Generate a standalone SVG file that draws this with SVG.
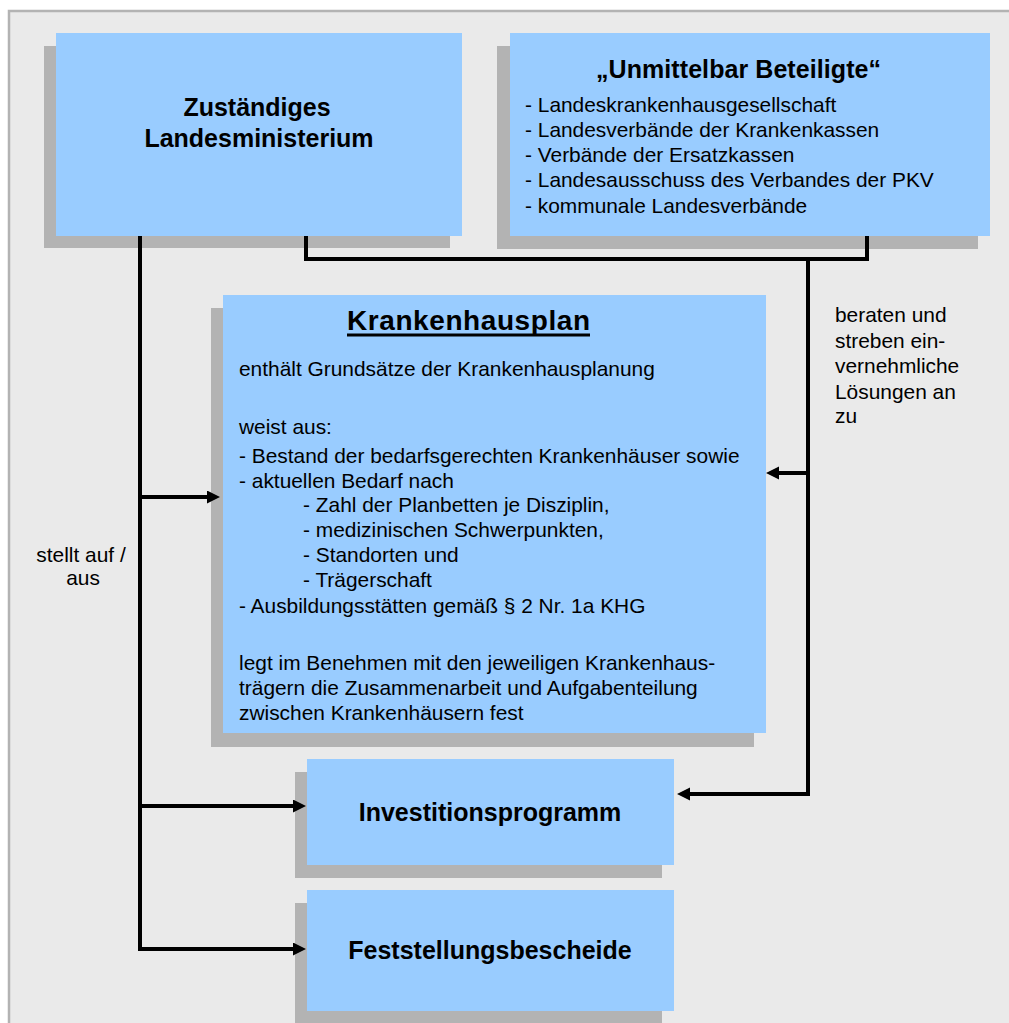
<svg xmlns="http://www.w3.org/2000/svg" width="1009" height="1023" viewBox="0 0 1009 1023">
<style>
text{font-family:"Liberation Sans",Arial,sans-serif;fill:#000}
.b{font-weight:bold;font-size:25px}
.t{font-size:20.9px}
.box{fill:#99ccff}
.sh{fill:#b3b3b3}
.c{fill:none;stroke:#000;stroke-width:4;stroke-linejoin:miter}
.a{marker-end:url(#ah)}
</style>
<defs>
<marker id="ah" markerUnits="userSpaceOnUse" markerWidth="14" markerHeight="14" refX="5" refY="6.5" orient="auto">
<path d="M0,0 L13,6.5 L0,13 z" fill="#000"/>
</marker>
</defs>
<rect x="0" y="0" width="1009" height="1023" fill="#fff"/>
<rect x="9" y="11" width="1200" height="1200" fill="#eaeaea" stroke="#b3b3b3" stroke-width="2.5"/>

<g id="ministerium">
<rect class="sh" x="44" y="46" width="406" height="202"/>
<rect class="box" x="56" y="33" width="406" height="203"/>
<text class="b" x="257" y="116" text-anchor="middle">Zuständiges</text>
<text class="b" x="259" y="147" text-anchor="middle">Landesministerium</text>
</g>

<g id="beteiligte">
<rect class="sh" x="497" y="46" width="481" height="203"/>
<rect class="box" x="510" y="33" width="480" height="203"/>
<text class="b" x="596" y="78" textLength="285">„Unmittelbar Beteiligte“</text>
<text class="t" x="525" y="112">- Landeskrankenhausgesellschaft</text>
<text class="t" x="525" y="137">- Landesverbände der Krankenkassen</text>
<text class="t" x="525" y="162">- Verbände der Ersatzkassen</text>
<text class="t" x="525" y="187">- Landesausschuss des Verbandes der PKV</text>
<text class="t" x="525" y="213">- kommunale Landesverbände</text>
</g>

<g id="krankenhausplan">
<rect class="sh" x="211" y="308" width="543" height="439"/>
<rect class="box" x="223" y="295" width="543" height="438"/>
<text x="347" y="330" font-size="28" font-weight="bold" textLength="243">Krankenhausplan</text>
<line x1="347" y1="335" x2="590" y2="335" stroke="#000" stroke-width="3"/>
<text class="t" x="239" y="376">enthält Grundsätze der Krankenhausplanung</text>
<text class="t" x="239" y="434">weist aus:</text>
<text class="t" x="239" y="463">- Bestand der bedarfsgerechten Krankenhäuser sowie</text>
<text class="t" x="239" y="487.5">- aktuellen Bedarf nach</text>
<text class="t" x="303" y="512">- Zahl der Planbetten je Disziplin,</text>
<text class="t" x="303" y="537">- medizinischen Schwerpunkten,</text>
<text class="t" x="303" y="562">- Standorten und</text>
<text class="t" x="303" y="587">- Trägerschaft</text>
<text class="t" x="239" y="613">- Ausbildungsstätten gemäß § 2 Nr. 1a KHG</text>
<text class="t" x="239" y="670">legt im Benehmen mit den jeweiligen Krankenhaus-</text>
<text class="t" x="239" y="695">trägern die Zusammenarbeit und Aufgabenteilung</text>
<text class="t" x="239" y="720">zwischen Krankenhäusern fest</text>
</g>

<g id="investitionsprogramm">
<rect class="sh" x="295" y="772" width="367" height="106"/>
<rect class="box" x="307" y="759" width="367" height="106"/>
<text class="b" x="490" y="821" text-anchor="middle">Investitionsprogramm</text>
</g>

<g id="feststellungsbescheide">
<rect class="sh" x="295" y="903" width="367" height="130"/>
<rect class="box" x="307" y="890" width="367" height="121"/>
<text class="b" x="490" y="959" text-anchor="middle">Feststellungsbescheide</text>
</g>

<g id="connectors">
<path class="c a" d="M140,236 V949 H298"/>
<path class="c a" d="M140,497 H212"/>
<path class="c a" d="M140,806 H298"/>
<path class="c" d="M306,236 V259 H867 V236"/>
<path class="c a" d="M808,259 V794 H685"/>
<path class="c a" d="M808,473 H774"/>
</g>

<g id="labels">
<text class="t" x="81" y="562" text-anchor="middle">stellt auf /</text>
<text class="t" x="83" y="585" text-anchor="middle">aus</text>
<text class="t" x="835" y="322">beraten und</text>
<text class="t" x="835" y="348">streben ein-</text>
<text class="t" x="835" y="373">vernehmliche</text>
<text class="t" x="835" y="399">Lösungen an</text>
<text class="t" x="835" y="423">zu</text>
</g>
</svg>
